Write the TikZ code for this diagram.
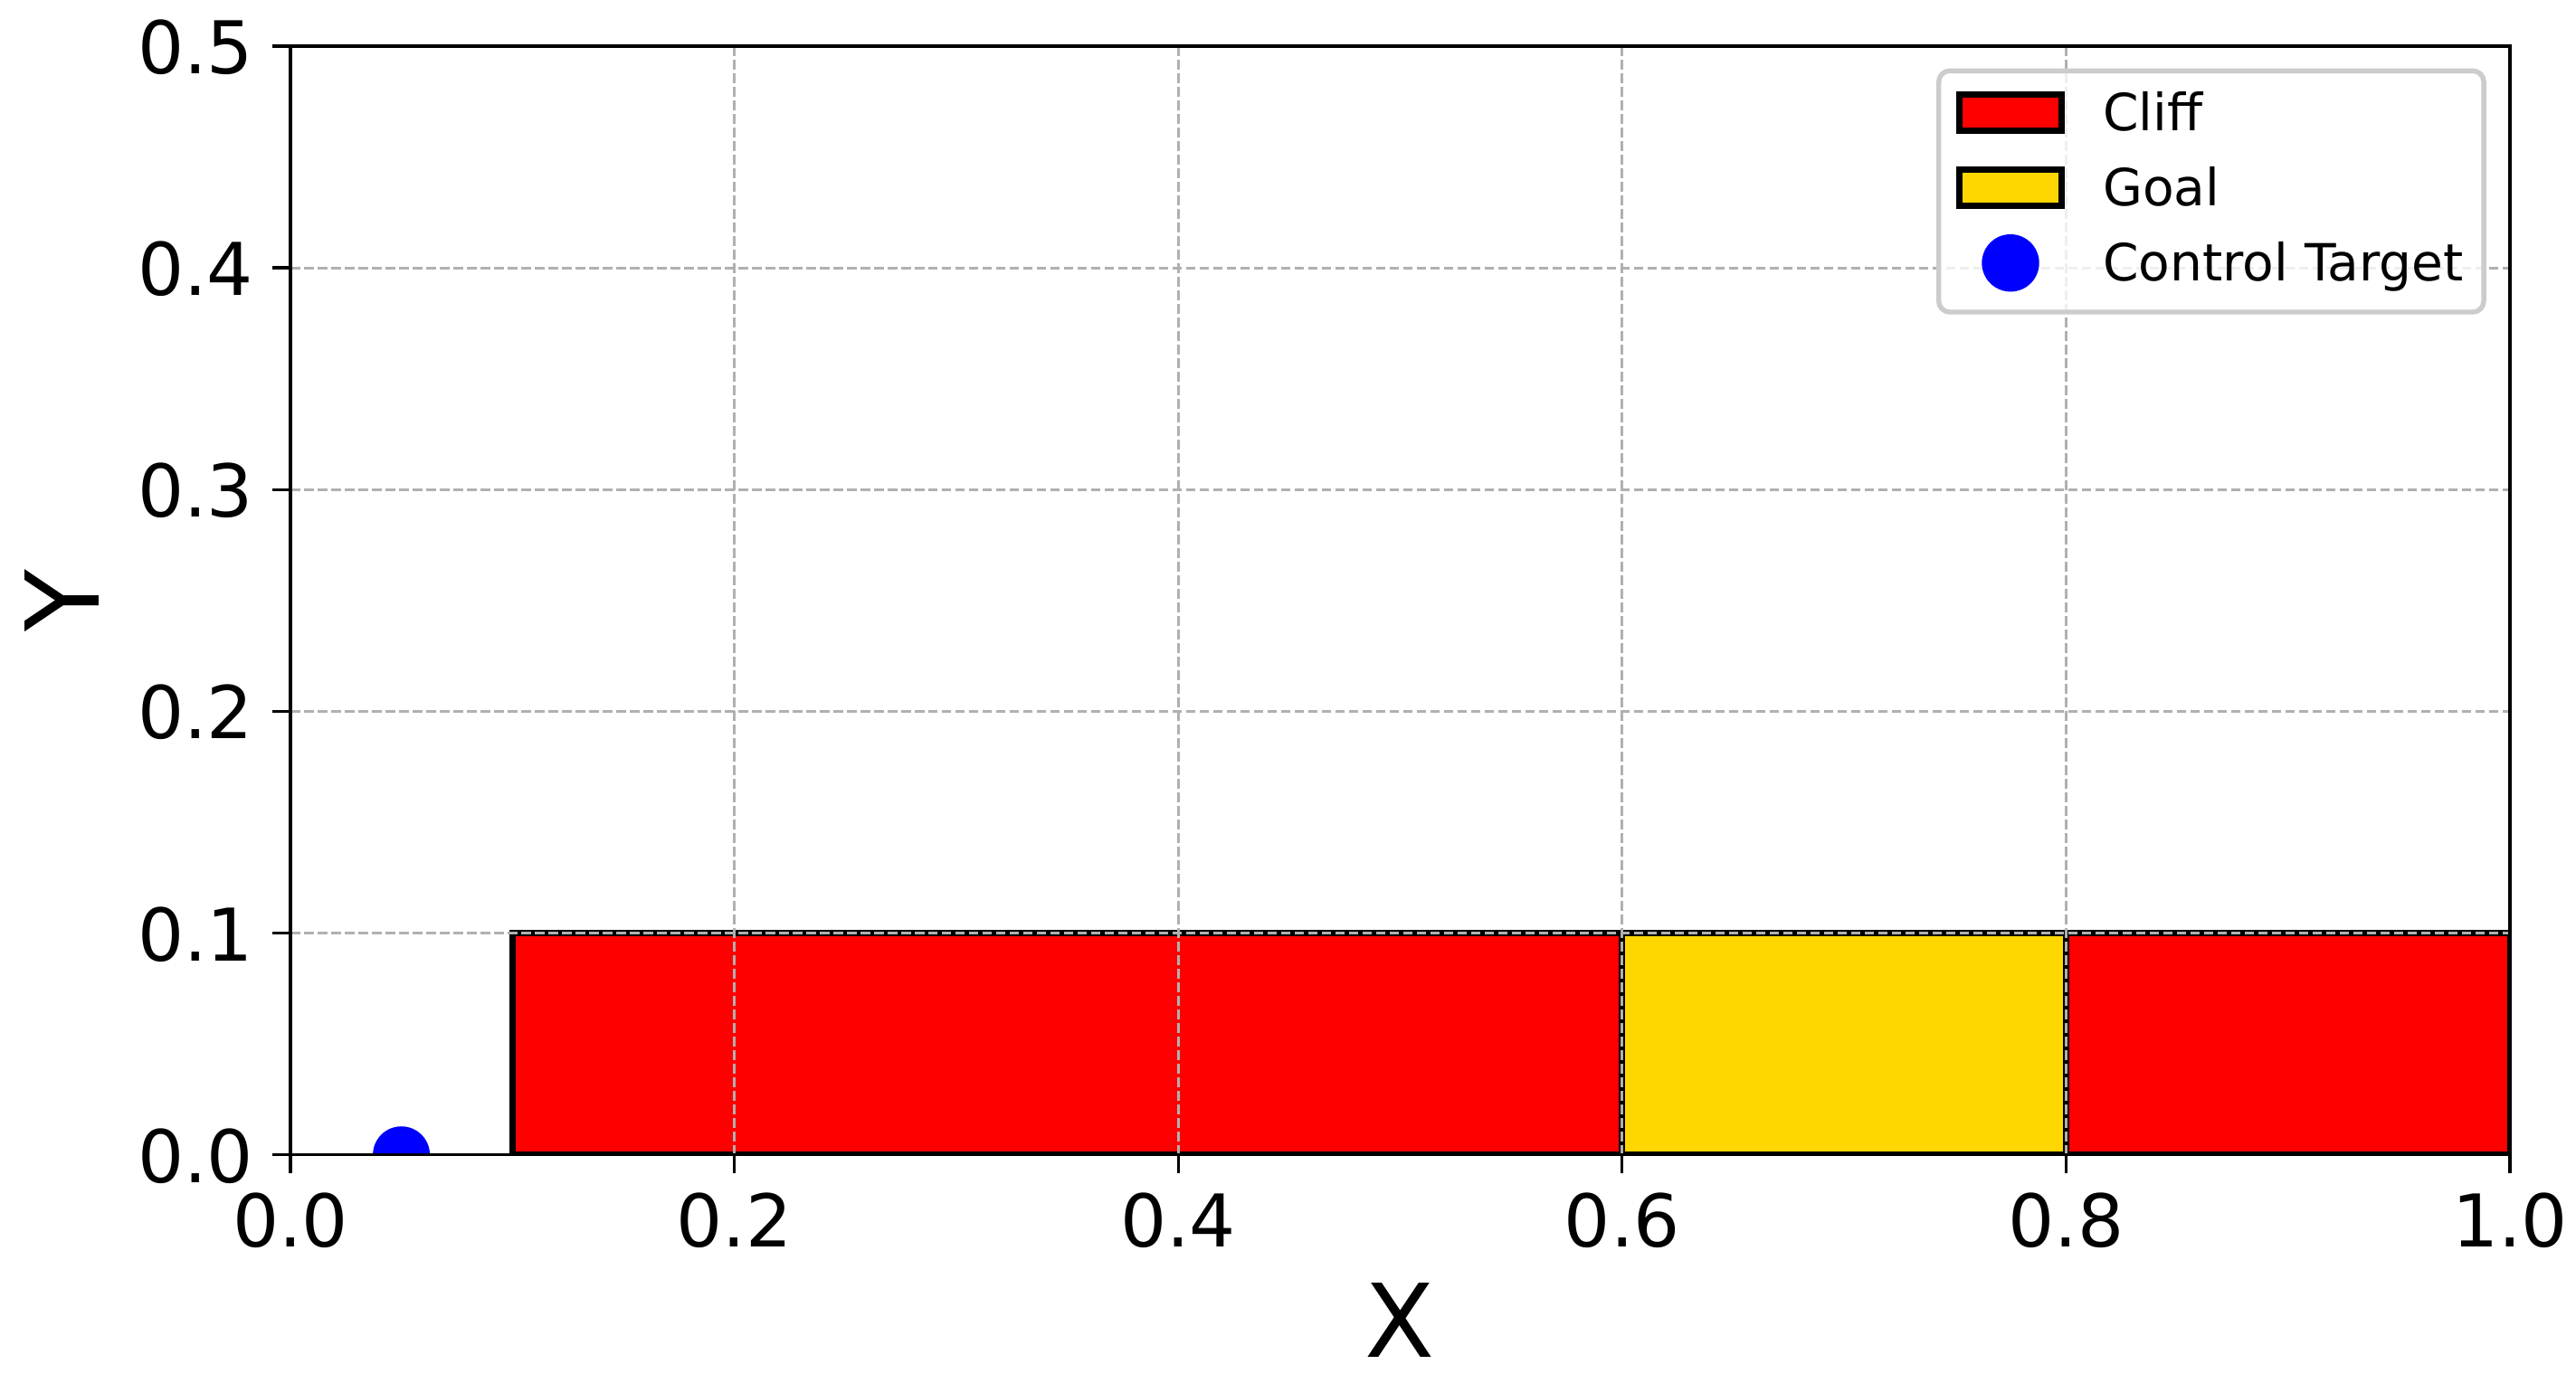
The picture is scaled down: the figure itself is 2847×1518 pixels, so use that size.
\documentclass[tikz,border=0pt]{standalone}
\usepackage{fontspec}
\setmainfont{DejaVu Sans}
\definecolor{gridgray}{HTML}{B0B0B0}
\definecolor{legedge}{HTML}{CCCCCC}
\definecolor{goldc}{HTML}{FFD700}
\definecolor{pureblue}{HTML}{0000FF}
\definecolor{purered}{HTML}{FF0000}
\begin{document}
\begin{tikzpicture}[x=0.24pt,y=-0.24pt,
  spine/.style={line width=0.8pt,black},
  tickmark/.style={line width=0.8pt,black},
  gridline/.style={gridgray,line width=0.77pt,dash pattern=on 2.52pt off 1.08pt},
  patchbox/.style={line width=1.6pt,draw=black},
  ticklab/.style={inner sep=0pt,font=\fontsize{19.3}{23}\selectfont},
  axlab/.style={inner sep=0pt,font=\fontsize{27}{32}\selectfont},
  legtext/.style={inner sep=0pt,font=\fontsize{13.6}{16}\selectfont,anchor=base west},
  legframe/.style={draw=legedge,line width=1.3pt,fill=white,fill opacity=0.8,rounded corners=2.9pt}
]
\useasboundingbox[fill=white] (0,0) rectangle (2847,1518);

% patches and marker, clipped to axes
\begin{scope}
\clip (321,51) rectangle (2774,1276.7);
\draw[patchbox,fill=purered] (566.3,1276.7) rectangle (1792.8,1031.6);
\draw[patchbox,fill=goldc] (1792.8,1276.7) rectangle (2283.4,1031.6);
\draw[patchbox,fill=purered] (2283.4,1276.7) rectangle (2774,1031.6);
\fill[pureblue] (443.6,1276.7) circle[radius=31.5];
\end{scope}

% grid
\foreach \p in {811.6,1302.2,1792.8,2283.4}
  \draw[gridline] (\p,1276.7) -- (\p,51);
\foreach \q in {1031.6,786.4,541.3,296.1}
  \draw[gridline] (321,\q) -- (2774,\q);

% spines
\draw[spine] (321,51) rectangle (2774,1276.7);

% x ticks and labels
\foreach \p/\lab [count=\i] in {321/0.0,811.6/0.2,1302.2/0.4,1792.8/0.6,2283.4/0.8,2774/1.0}{
  \coordinate (xa\i) at (\p,1276.7);
  \coordinate (xb\i) at (\p,1296.7);
  \draw[tickmark] (xa\i) -- (xb\i);
  \node[ticklab,anchor=base] (xt\i) at (\p,1378) {\lab};
}
% y ticks and labels
\foreach \q/\lab [count=\i] in {1276.7/0.0,1031.6/0.1,786.4/0.2,541.3/0.3,296.1/0.4,51/0.5}{
  \coordinate (ya\i) at (321,\q);
  \coordinate (yb\i) at (301,\q);
  \draw[tickmark] (ya\i) -- (yb\i);
  \node[ticklab,anchor=base east] (yt\i) at (281,\q+30.5) {\lab};
}

% axis labels
\node[axlab,anchor=base] (xlab) at (1547.5,1500.5) {X};
\node[axlab,anchor=base,rotate=90] (ylab) at (109,663.8) {Y};

% legend
\draw[legframe] (2142.7,78.3) rectangle (2745,345);
\draw[patchbox,fill=purered] (2165.5,104.5) rectangle (2278.5,144.2);
\draw[patchbox,fill=goldc] (2165.5,187.8) rectangle (2278.5,227.2);
\fill[pureblue] (2222,290.7) circle[radius=31.7];
\node[legtext] (lcliff) at (2323.5,144) {Cliff};
\node[legtext] (lgoal) at (2323.5,227.2) {Goal};
\node[legtext] (ltarget) at (2323.5,310.4) {Control Target};
\end{tikzpicture}
\end{document}
